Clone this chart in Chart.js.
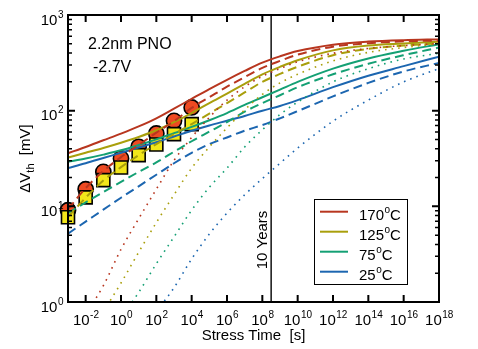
<!DOCTYPE html>
<html>
<head>
<meta charset="utf-8">
<script src="https://cdn.jsdelivr.net/npm/chart.js@4/dist/chart.umd.min.js"></script>
<style>
  html, body { margin: 0; padding: 0; background: #fff; }
  #wrap { width: 478px; height: 349px; position: relative; }
</style>
</head>
<body>
<div id="wrap"><canvas id="c" width="478" height="349"></canvas></div>
<script>
// stress time grid for the model curves [s]
const stressTime = [1e-3, 1e-2, 1e-1, 1, 1e1, 1e2, 1e3, 1e4, 1e5, 1e6, 1e7, 1e8, 1e9, 1e10, 1e12, 1e14, 1e16, 1e18];

// ΔVth [mV] model curves: solid / dashed / dotted per temperature
const solid170 = [35.9, 41.7, 49.0, 57.5, 68.4, 83.2, 105, 133, 168, 210, 260, 318, 370, 420, 490, 527, 546, 556];
const dash170  = [9.33, 15.5, 23.4, 32.7, 43.7, 58.9, 77.6, 107, 138, 178, 224, 280, 331, 385, 466, 507, 531, 540];
const dot170   = [null, 0.741, 1.48, 3.55, 7.41, 15.1, 30.2, 52.5, 85.1, 129, 178, 229, 275, 324, 398, 447, 479, 501];

const solid125 = [32.4, 36.3, 40.7, 46.2, 53.1, 62.4, 75.9, 94.4, 120, 151, 191, 240, 287, 337, 427, 479, 503, 525];
const dash125  = [7.76, 12.3, 18.6, 25.7, 34.3, 44.7, 56.9, 72.4, 93.3, 120, 155, 200, 242, 288, 380, 442, 479, 507];
const dot125   = [null, null, 0.794, 1.58, 3.31, 6.76, 13.2, 25.1, 41.7, 66.1, 102, 148, 195, 240, 331, 407, 457, 501];

const solid75 = [29.2, 31.6, 34.7, 38.5, 43.7, 50.1, 58.2, 67.6, 79.4, 94.4, 115, 138, 166, 200, 275, 351, 422, 495];
const dash75  = [8.51, 11.0, 14.1, 18.0, 22.9, 28.8, 37.2, 47.9, 60.3, 75.9, 97.7, 120, 145, 176, 240, 309, 380, 457];
const dot75   = [null, null, null, 0.676, 1.26, 2.51, 4.79, 9.12, 15.8, 25.1, 41.7, 63.1, 91.2, 123, 200, 275, 347, 398];

const solid25 = [25.1, 28.2, 32.0, 36.3, 41.2, 46.8, 53.7, 61.7, 70.0, 78.5, 88.1, 100, 112, 129, 176, 232, 292, 367];
const dash25  = [5.19, 6.92, 9.23, 12.3, 16.2, 21.4, 28.2, 36.3, 44.7, 52.5, 61.7, 70.8, 83.2, 98.9, 141, 195, 257, 316];
const dot25   = [null, null, null, null, null, 0.794, 1.41, 2.82, 5.13, 8.51, 13.2, 19.5, 28.2, 40.7, 77.6, 129, 200, 275];

// measured points
const measTime = [1e-3, 1e-2, 1e-1, 1, 1e1, 1e2, 1e3, 1e4];
const meas170  = [9.1, 15.1, 22.9, 31.7, 41.9, 57.8, 78.3, 108];
const meas125  = [7.7, 12.4, 18.8, 25.5, 34.3, 44.3, 56.8, 72.3];

const tenYears = 3.15e8;
const xTickExp = [-2, 0, 2, 4, 6, 8, 10, 12, 14, 16, 18];
const yTickExp = [0, 1, 2, 3];
const tempLabels = ['170', '125', '75', '25'];
const tempColors = ['#b8361f', '#a99f0c', '#14a074', '#1c66b0'];

const FONT = '"Liberation Sans", Arial, Helvetica, sans-serif';
const pts = (xs, ys) => xs.map((x, i) => ({x, y: ys[i]}));

function curve(ys, color, style) {
  return {
    data: pts(stressTime, ys), borderColor: color, backgroundColor: color,
    borderWidth: style === 'dot' ? 1.6 : 2,
    borderDash: style === 'dash' ? [9, 5] : style === 'dot' ? [1.6, 5] : [],
    pointRadius: 0, fill: false, cubicInterpolationMode: 'monotone', order: 0
  };
}

const datasets = [
  curve(solid170, tempColors[0], 'solid'), curve(dash170, tempColors[0], 'dash'), curve(dot170, tempColors[0], 'dot'),
  curve(solid125, tempColors[1], 'solid'), curve(dash125, tempColors[1], 'dash'), curve(dot125, tempColors[1], 'dot'),
  curve(solid75, tempColors[2], 'solid'), curve(dash75, tempColors[2], 'dash'), curve(dot75, tempColors[2], 'dot'),
  curve(solid25, tempColors[3], 'solid'), curve(dash25, tempColors[3], 'dash'), curve(dot25, tempColors[3], 'dot'),
  {data: [{x: tenYears, y: 1}, {x: tenYears, y: 1000}], borderColor: '#000', borderWidth: 1.4, pointRadius: 0, order: 0},
  {data: pts(measTime, meas125), showLine: false, pointStyle: 'rect', pointRadius: 9.2,
   backgroundColor: '#f2e61a', borderColor: '#000', borderWidth: 1.6, clip: false, order: 1},
  {data: pts(measTime, meas170), showLine: false, pointStyle: 'circle', pointRadius: 7.6,
   backgroundColor: '#ee4a22', borderColor: '#000', borderWidth: 1.6, clip: false, order: 2},
];

// draws frame, inward ticks, power-of-ten labels, titles, notes and legend
const decor = {
  id: 'decor',
  afterDraw(chart) {
    const ctx = chart.ctx, a = chart.chartArea;
    const xs = chart.scales.x, ys = chart.scales.y;
    ctx.save();
    ctx.strokeStyle = '#000'; ctx.fillStyle = '#000';
    ctx.lineWidth = 2;
    ctx.strokeRect(a.left, a.top, a.right - a.left, a.bottom - a.top);

    ctx.beginPath();
    xTickExp.forEach(e => {
      const px = xs.getPixelForValue(Math.pow(10, e));
      ctx.moveTo(px, a.bottom); ctx.lineTo(px, a.bottom - 7);
      ctx.moveTo(px, a.top); ctx.lineTo(px, a.top + 7);
    });
    yTickExp.forEach(e => {
      const py = ys.getPixelForValue(Math.pow(10, e));
      ctx.moveTo(a.left, py); ctx.lineTo(a.left + 7, py);
      ctx.moveTo(a.right, py); ctx.lineTo(a.right - 7, py);
    });
    ctx.stroke();
    ctx.lineWidth = 1.5;
    ctx.beginPath();
    yTickExp.slice(0, -1).forEach(e => {
      for (let k = 2; k <= 9; k++) {
        const py = ys.getPixelForValue(k * Math.pow(10, e));
        ctx.moveTo(a.left, py); ctx.lineTo(a.left + 4, py);
        ctx.moveTo(a.right, py); ctx.lineTo(a.right - 4, py);
      }
    });
    ctx.stroke();

    const base = '15px ' + FONT, sup = '10px ' + FONT;
    function pow10(e, x, y, align) {
      ctx.font = base; const wb = ctx.measureText('10').width;
      ctx.font = sup; const ws = ctx.measureText(String(e)).width;
      const x0 = align === 'center' ? x - (wb + ws) / 2 : x - wb - ws;
      ctx.textAlign = 'left'; ctx.textBaseline = 'alphabetic';
      ctx.font = base; ctx.fillText('10', x0, y);
      ctx.font = sup; ctx.fillText(String(e), x0 + wb + 0.5, y - 7);
    }
    xTickExp.forEach(e => pow10(e, xs.getPixelForValue(Math.pow(10, e)), a.bottom + 22.5, 'center'));
    yTickExp.forEach(e => pow10(e, a.left - 5, ys.getPixelForValue(Math.pow(10, e)) + 9.5, 'right'));

    ctx.font = base; ctx.textAlign = 'center';
    ctx.fillText('Stress Time  [s]', (a.left + a.right) / 2, 340);

    // y title with subscript
    ctx.save();
    ctx.translate(30, (a.top + a.bottom) / 2);
    ctx.rotate(-Math.PI / 2);
    ctx.textAlign = 'left';
    ctx.font = base; const w1 = ctx.measureText('ΔV').width;
    ctx.font = '11px ' + FONT; const w2 = ctx.measureText('th').width;
    ctx.font = base; const w3 = ctx.measureText('  [mV]').width;
    let tx = -(w1 + w2 + w3) / 2;
    ctx.fillText('ΔV', tx, 0); tx += w1;
    ctx.font = '11px ' + FONT; ctx.fillText('th', tx, 4); tx += w2;
    ctx.font = base; ctx.fillText('  [mV]', tx, 0);
    ctx.restore();

    // 10 years label
    ctx.save();
    ctx.translate(xs.getPixelForValue(tenYears) - 4.5, 240);
    ctx.rotate(-Math.PI / 2);
    ctx.textAlign = 'center'; ctx.font = base;
    ctx.fillText('10 Years', 0, 0);
    ctx.restore();

    ctx.textAlign = 'left';
    ctx.font = '16px ' + FONT;
    ctx.fillText('2.2nm PNO', 88, 49);
    ctx.fillText('-2.7V', 93, 72);

    // legend
    ctx.lineWidth = 1;
    ctx.fillStyle = '#fff';
    ctx.fillRect(314.5, 199.5, 93, 85);
    ctx.strokeRect(314.5, 199.5, 93, 85);
    tempLabels.forEach((t, i) => {
      const ly = 211.7 + 20 * i;
      ctx.strokeStyle = tempColors[i]; ctx.lineWidth = 2;
      ctx.beginPath(); ctx.moveTo(320, ly); ctx.lineTo(348, ly); ctx.stroke();
      ctx.fillStyle = '#000';
      ctx.font = base; let lx = 359;
      ctx.fillText(t, lx, ly + 8.5); lx += ctx.measureText(t).width + 0.5;
      ctx.font = sup; ctx.fillText('o', lx, ly + 1.5); lx += ctx.measureText('o').width;
      ctx.font = base; ctx.fillText('C', lx, ly + 8.5);
    });
    ctx.restore();
  }
};

new Chart(document.getElementById('c'), {
  type: 'line',
  data: {datasets},
  options: {
    responsive: false, animation: false, devicePixelRatio: 1,
    layout: {padding: {left: 68, top: 15, right: 39, bottom: 47}},
    plugins: {legend: {display: false}, tooltip: {enabled: false}},
    scales: {
      x: {type: 'logarithmic', min: 1e-3, max: 1e18, display: false},
      y: {type: 'logarithmic', min: 1, max: 1000, display: false}
    }
  },
  plugins: [decor]
});
</script>
</body>
</html>
